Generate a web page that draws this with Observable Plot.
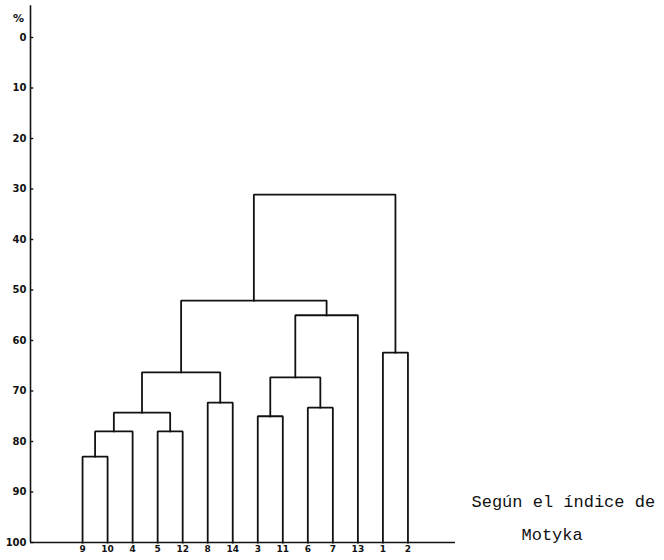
<!DOCTYPE html>
<html>
<head>
<meta charset="utf-8">
<script src="https://cdn.jsdelivr.net/npm/d3@7"></script>
<script src="https://cdn.jsdelivr.net/npm/@observablehq/plot@0.6"></script>
<style>
  html, body { margin: 0; padding: 0; background: #fff; }
  #chart svg { display: block; background: #fff; }
</style>
</head>
<body>
<div id="chart"></div>
<script>
// Leaves in dendrogram order (bottom axis labels)
const leaves = ["9", "10", "4", "5", "12", "8", "14", "3", "11", "6", "7", "13", "1", "2"];
// Merges (m1..m13): two children and the similarity (%) at which they join
const mergeA = ["9", "m1", "5", "m2", "8", "m4", "3", "6", "m7", "m9", "m6", "1", "m11"];
const mergeB = ["10", "4", "12", "m3", "14", "m5", "11", "7", "m8", "13", "m10", "2", "m12"];
const mergeHeight = [83, 78, 78, 74.3, 72.3, 66.3, 75, 73.3, 67.3, 55, 52.1, 62.4, 31.1];
// Y axis ticks
const yTicks = [0, 10, 20, 30, 40, 50, 60, 70, 80, 90, 100];
const axisUnit = "%";
const captionLines = ["Según el índice de", "Motyka"];

// Build node positions: leaves at 100 %, merges at mean of children
const pos = {};
leaves.forEach((l, i) => { pos[l] = { x: i, y: 100 }; });
const rows = [];
mergeHeight.forEach((h, i) => {
  const id = "m" + (i + 1);
  const a = pos[mergeA[i]], b = pos[mergeB[i]];
  pos[id] = { x: (a.x + b.x) / 2, y: h };
  rows.push({ id, x: a.x, y: a.y }, { id, x: a.x, y: h }, { id, x: b.x, y: h }, { id, x: b.x, y: b.y });
});

const xMin = -2.08, xMax = 14.9;
const tickLen = 0.13;

const chart = Plot.plot({
  width: 664,
  height: 560,
  marginLeft: 30,
  marginRight: 209,
  marginTop: 37,
  marginBottom: 18,
  style: { fontFamily: "DejaVu Sans, sans-serif", background: "#fff", color: "#111" },
  x: { domain: [xMin, xMax], axis: null },
  y: { domain: [0, 100], reverse: true, axis: null },
  marks: [
    // vertical axis line (extends above 0)
    Plot.ruleX([xMin], { y1: -6.3, y2: 100, stroke: "#111", strokeWidth: 1.6 }),
    // bottom baseline
    Plot.ruleY([100], { x1: xMin, x2: xMax, stroke: "#111", strokeWidth: 1.6 }),
    // y tick marks pointing inward
    Plot.ruleY(yTicks, { y: d => d, x1: xMin, x2: xMin + tickLen, stroke: "#111", strokeWidth: 1.4 }),
    Plot.axisY(yTicks, { anchor: "left", tickSize: 0, tickPadding: 4, fontSize: 10, fontWeight: "bold", label: null }),
    Plot.axisX(d3.range(leaves.length), { anchor: "bottom", tickSize: 0, tickPadding: 3, fontSize: 9, fontWeight: "bold", tickFormat: i => leaves[i], label: null }),
    // dendrogram
    Plot.line(rows, { x: "x", y: "y", z: "id", stroke: "#111", strokeWidth: 1.8, strokeLinejoin: "miter", strokeLinecap: "square" }),
    // % unit label
    Plot.text([axisUnit], { frameAnchor: "top-left", dx: -12, dy: -23, fontSize: 11, fontWeight: "bold", textAnchor: "middle" }),
    // caption
    Plot.text([captionLines[0]], { frameAnchor: "bottom-right", dx: 16, dy: -41, textAnchor: "start", lineAnchor: "middle", fontSize: 17, fontFamily: "Liberation Mono, DejaVu Sans Mono, monospace", fill: "#111" }),
    Plot.text([captionLines[1]], { frameAnchor: "bottom-right", dx: 66, dy: -8, textAnchor: "start", lineAnchor: "middle", fontSize: 17, fontFamily: "Liberation Mono, DejaVu Sans Mono, monospace", fill: "#111" })
  ]
});
document.getElementById("chart").appendChild(chart);
</script>
</body>
</html>
